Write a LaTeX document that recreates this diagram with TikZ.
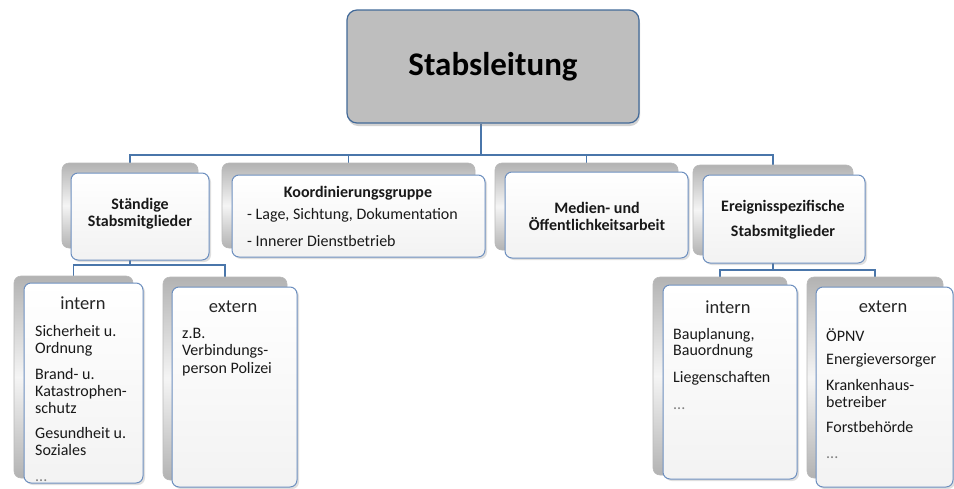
\documentclass[tikz,border=0pt]{standalone}
\usepackage{fontspec}
\setmainfont{Carlito}
\usepackage{tikz}
\usetikzlibrary{shadows,backgrounds}
\definecolor{rahmen}{HTML}{6D8FBF}
\definecolor{linie}{HTML}{4A76AA}
\definecolor{kopf}{HTML}{BEBEBE}

\begin{document}
\begin{tikzpicture}[x=1pt, y=-1pt, line join=round,
  leitung/.style={draw=linie!90!black, line width=1.2pt, fill=kopf, rounded corners=10pt, inner sep=0pt,
    drop shadow={opacity=0.35, shadow xshift=1pt, shadow yshift=-3pt}},
  rueck/.style={draw=gray!55, line width=0.6pt, rounded corners=7pt, inner sep=0pt,
    top color=gray!60, bottom color=gray!60, middle color=gray!8},
  vorn/.style={draw=rahmen, line width=1pt, rounded corners=7pt, inner sep=0pt,
    top color=white, bottom color=gray!10,
    drop shadow={opacity=0.25, shadow xshift=2pt, shadow yshift=-2pt}},
  verb/.style={draw=linie, line width=1.5pt},
  titel/.style={font=\bfseries\fontsize{16}{17}\selectfont, align=center, text=black!90},
  kopfz/.style={font=\fontsize{18.5}{20}\selectfont, text=black!85},
  liste/.style={font=\fontsize{16}{17}\selectfont, align=left, anchor=north west, inner sep=0pt, text=black!90}]
  \useasboundingbox (0,0) rectangle (954,488);

  % Stabsleitung
  \node[leitung, minimum width=292pt, minimum height=113pt, font=\bfseries\fontsize{33}{38}\selectfont] (stab) at (493,66.5) {Stabsleitung};

  % erste Ebene
  \node[rueck, minimum width=136pt, minimum height=85pt] (sB) at (130,205.5) {};
  \node[vorn, minimum width=138pt, minimum height=87pt] (sF) at (140,216.5) {};
  \node[titel] (sT) at (140,214) {Ständige\\Stabsmitglieder};

  \node[rueck, minimum width=253pt, minimum height=85pt] (kB) at (348.5,205.5) {};
  \node[vorn, minimum width=253pt, minimum height=82pt] (kF) at (358.5,216) {};
  \node[titel] (kT) at (358,193) {Koordinierungsgruppe};
  \node[liste] (kL) at (247,208) {- Lage, Sichtung, Dokumentation\\[10pt]- Innerer Dienstbetrieb};

  \node[rueck, minimum width=183pt, minimum height=87pt] (mB) at (586.5,206.5) {};
  \node[vorn, minimum width=183pt, minimum height=86pt] (mF) at (596.5,215) {};
  \node[titel] (mT) at (597,216) {Medien- und\\Öffentlichkeitsarbeit};

  \node[rueck, minimum width=160pt, minimum height=90pt] (eB) at (773,210) {};
  \node[vorn, minimum width=162pt, minimum height=88pt] (eF) at (784,219) {};
  \node[titel] (eT) at (783,219.5) {Ereignisspezifische\\[8pt]Stabsmitglieder};

  % zweite Ebene links
  \node[rueck, minimum width=119pt, minimum height=202pt] (liB) at (73.5,377) {};
  \node[vorn, minimum width=119pt, minimum height=200pt] (liF) at (83.5,383) {};
  \node[kopfz] (liK) at (83,303) {intern};
  \node[liste] (liL) at (35,325) {Sicherheit u.\\Ordnung\\[9pt]Brand- u.\\Katastrophen-\\schutz\\[8pt]Gesundheit u.\\Soziales\\[9pt]\textcolor{gray}{...}};

  \node[rueck, minimum width=124pt, minimum height=203pt] (leB) at (225,378.5) {};
  \node[vorn, minimum width=125pt, minimum height=200pt] (leF) at (234.5,387) {};
  \node[kopfz] (leK) at (233,307) {extern};
  \node[liste, font=\fontsize{16}{17.5}\selectfont] (leL) at (182,328) {z.B.\\Verbindungs-\\person Polizei};

  % zweite Ebene rechts
  \node[rueck, minimum width=134pt, minimum height=198pt] (riB) at (720,376) {};
  \node[vorn, minimum width=134pt, minimum height=194pt] (riF) at (730,382) {};
  \node[kopfz] (riK) at (728,307) {intern};
  \node[liste, font=\fontsize{16}{16}\selectfont] (riL) at (673,328) {Bauplanung,\\Bauordnung\\[11pt]Liegenschaften\\[11pt]\textcolor{gray}{...}};

  \node[rueck, minimum width=136pt, minimum height=201pt] (reB) at (875,377.5) {};
  \node[vorn, minimum width=137pt, minimum height=200pt] (reF) at (884.5,387) {};
  \node[kopfz] (reK) at (883,307) {extern};
  \node[liste] (reL) at (826,328) {ÖPNV\\[6pt]Energieversorger\\[9pt]Krankenhaus-\\betreiber\\[8pt]Forstbehörde\\[9pt]\textcolor{gray}{...}};

  % Verbindungen
  \begin{scope}[on background layer]
    \fill[white] (0,0) rectangle (954,488);
    \coordinate (bus) at (481,155);
    \coordinate (lbus) at (130,265);
    \coordinate (rbus) at (773,270);
    \draw[verb] (bus |- stab.south) -- (bus);
    \draw[verb] (bus) -| (sB.north);
    \draw[verb] (bus) -| (kB.north);
    \draw[verb] (bus) -| (mB.north);
    \draw[verb] (bus) -| (eB.north);
    \draw[verb] (sB.south) -- (lbus);
    \draw[verb] (lbus) -| (liB.north);
    \draw[verb] (lbus) -| (leB.north);
    \draw[verb] (eB.south) -- (rbus);
    \draw[verb] (rbus) -| (riB.north);
    \draw[verb] (rbus) -| (reB.north);
  \end{scope}
\end{tikzpicture}
\end{document}
